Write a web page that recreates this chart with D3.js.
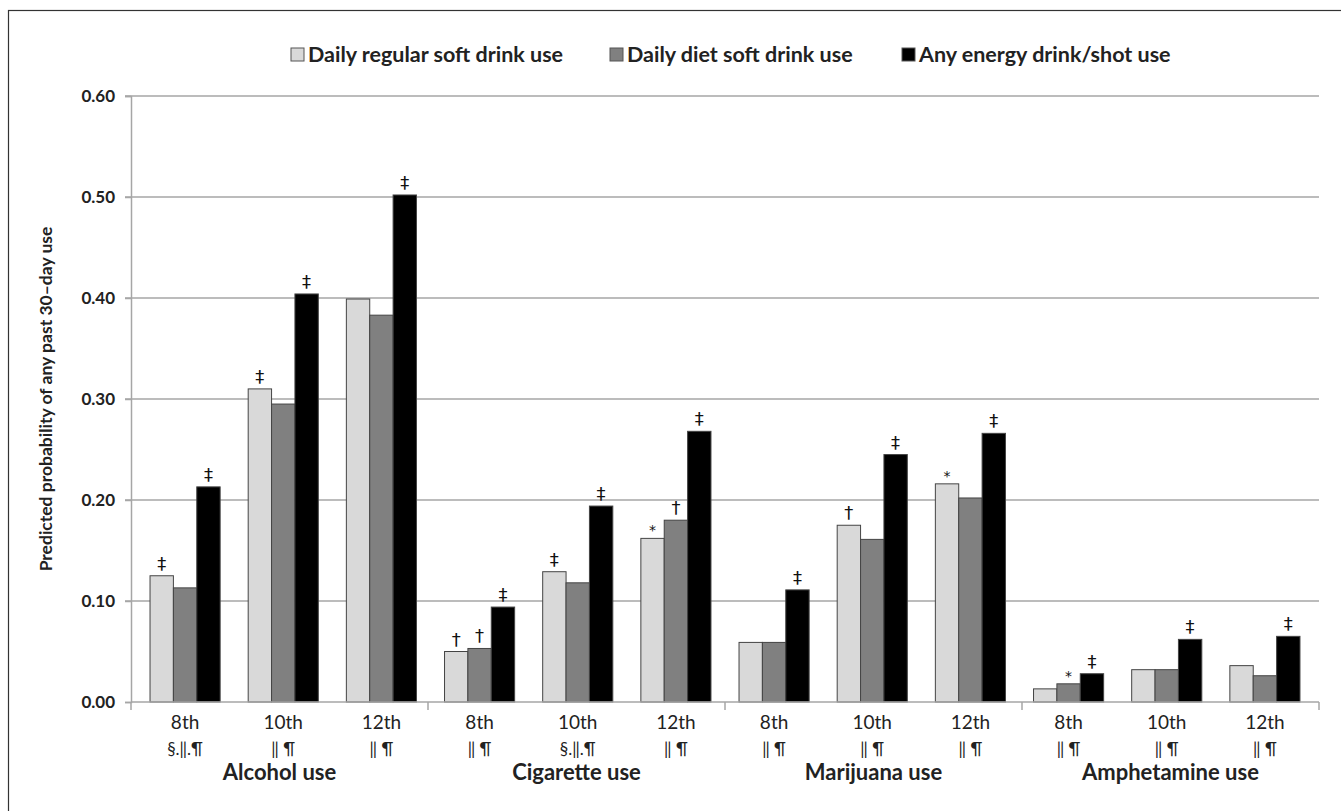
<!DOCTYPE html>
<html>
<head>
<meta charset="utf-8">
<script src="https://cdn.jsdelivr.net/npm/d3@7"></script>
<style>
  body { margin: 0; background: #fff; }
  text { font-family: Lato, "Open Sans", sans-serif; fill: #222; }
</style>
</head>
<body>
<div class="svg_container"></div>
<script>
// Chart data
var groups = ["Alcohol use", "Cigarette use", "Marijuana use", "Amphetamine use"];
var grades = ["8th", "10th", "12th"];
var gradeNotes = ["§.‖.¶", "‖ ¶", "‖ ¶", "‖ ¶", "§.‖.¶", "‖ ¶", "‖ ¶", "‖ ¶", "‖ ¶", "‖ ¶", "‖ ¶", "‖ ¶"];
var seriesNames = ["Daily regular soft drink use", "Daily diet soft drink use", "Any energy drink/shot use"];
var seriesColors = ["#d9d9d9", "#808080", "#000000"];

var regularVals = [0.125, 0.310, 0.399, 0.050, 0.129, 0.162, 0.059, 0.175, 0.216, 0.013, 0.032, 0.036];
var dietVals    = [0.113, 0.295, 0.383, 0.053, 0.118, 0.180, 0.059, 0.161, 0.202, 0.018, 0.032, 0.026];
var energyVals  = [0.213, 0.404, 0.502, 0.094, 0.194, 0.268, 0.111, 0.245, 0.266, 0.028, 0.062, 0.065];

var regularMarks = ["‡", "‡", "", "†", "‡", "*", "", "†", "*", "", "", ""];
var dietMarks    = ["", "", "", "†", "", "†", "", "", "", "*", "", ""];
var energyMarks  = ["‡", "‡", "‡", "‡", "‡", "‡", "‡", "‡", "‡", "‡", "‡", "‡"];

var yTicks = [0, 0.1, 0.2, 0.3, 0.4, 0.5, 0.6];

var W = 1341, H = 811;
var plotLeft = 131, plotRight = 1319, plotTop = 96, plotBottom = 702;

// category keys: group index * 3 + grade index
var cats = [];
groups.forEach(function(g, gi) {
    grades.forEach(function(gr, ri) { cats.push(gi * 3 + ri); });
});

var allVals = [regularVals, dietVals, energyVals];
var allMarks = [regularMarks, dietMarks, energyMarks];

var svg = d3.select("div.svg_container")
    .append("svg")
    .attr("width", W)
    .attr("height", H);

// outer frame (runs off the right and bottom edges)
svg.append("rect")
    .attr("x", 8.5).attr("y", 10.5)
    .attr("width", W + 20).attr("height", H + 20)
    .attr("fill", "none")
    .attr("stroke", "#333")
    .attr("stroke-width", 1.2);

var y = d3.scaleLinear().domain([0, 0.6]).range([plotBottom, plotTop]);
var xg = d3.scaleBand().domain(groups).range([plotLeft, plotRight]);
var x0 = d3.scaleBand().domain(cats).range([plotLeft + 5, plotRight - 5]);
var x1 = d3.scaleBand().domain([0, 1, 2]).range([0, x0.bandwidth()]).paddingInner(0).paddingOuter(0.6);

// gridlines
svg.append("g")
    .selectAll("line")
    .data(yTicks.slice(1))
    .enter()
    .append("line")
        .attr("x1", plotLeft - 6).attr("x2", plotRight)
        .attr("y1", function(d) { return y(d); })
        .attr("y2", function(d) { return y(d); })
        .attr("stroke", "#a6a6a6")
        .attr("stroke-width", 1.5);

// y axis
var yAxis = svg.append("g")
    .attr("transform", "translate(" + plotLeft + ",0)")
    .call(d3.axisLeft(y).tickValues(yTicks).tickFormat(d3.format(".2f")).tickSize(6).tickPadding(10));
yAxis.select(".domain").attr("stroke", "#a6a6a6").attr("stroke-width", 1.5);
yAxis.selectAll(".tick line").attr("stroke", "#a6a6a6").attr("stroke-width", 1.5);
yAxis.selectAll(".tick text")
    .style("font-family", "Lato, 'Open Sans', sans-serif")
    .style("font-size", "17px")
    .style("font-weight", "bold")
    .attr("fill", "#333");

// y title
svg.append("text")
    .attr("transform", "translate(52," + ((plotTop + plotBottom) / 2) + ") rotate(-90)")
    .attr("text-anchor", "middle")
    .style("font-size", "17.5px")
    .style("font-weight", "bold")
    .text("Predicted probability of any past 30\u2013day use");

// bars
var barGroups = svg.append("g")
    .selectAll("g.cat")
    .data(cats)
    .enter()
    .append("g")
        .attr("class", "cat")
        .attr("transform", function(c) { return "translate(" + x0(c) + ",0)"; });

function barData(c) {
    return [0, 1, 2].map(function(s) { return {s: s, v: allVals[s][c], m: allMarks[s][c]}; });
}

barGroups.selectAll("rect")
    .data(barData)
    .enter()
    .append("rect")
        .attr("x", function(d) { return x1(d.s); })
        .attr("width", x1.bandwidth())
        .attr("y", function(d) { return y(d.v); })
        .attr("height", function(d) { return y(0) - y(d.v); })
        .attr("fill", function(d) { return seriesColors[d.s]; })
        .attr("stroke", "#444")
        .attr("stroke-width", 1);

barGroups.selectAll("text.mark")
    .data(barData)
    .enter()
    .append("text")
        .attr("class", "mark")
        .attr("x", function(d) { return x1(d.s) + x1.bandwidth() / 2; })
        .attr("y", function(d) { return y(d.v) - (d.m === "*" ? 3 : 6); })
        .attr("text-anchor", "middle")
        .style("font-family", "'DejaVu Sans', sans-serif")
        .style("font-size", function(d) { return d.m === "*" ? "14px" : "18px"; })
        .style("fill", "#111")
        .text(function(d) { return d.m; });

// x axis line
svg.append("line")
    .attr("x1", plotLeft).attr("x2", plotRight)
    .attr("y1", plotBottom).attr("y2", plotBottom)
    .attr("stroke", "#a6a6a6")
    .attr("stroke-width", 1.5);

// group boundary ticks
var bounds = groups.map(function(g) { return xg(g); }).concat([plotRight]);
svg.append("g")
    .selectAll("line")
    .data(bounds)
    .enter()
    .append("line")
        .attr("x1", function(d) { return d; }).attr("x2", function(d) { return d; })
        .attr("y1", plotBottom).attr("y2", plotBottom + 8)
        .attr("stroke", "#a6a6a6")
        .attr("stroke-width", 1.5);

// grade labels + significance notes
var labels = svg.append("g")
    .selectAll("g.lab")
    .data(cats)
    .enter()
    .append("g")
        .attr("class", "lab")
        .attr("transform", function(c) { return "translate(" + (x0(c) + x0.bandwidth() / 2) + ",0)"; });

labels.append("text")
    .attr("y", 729)
    .attr("text-anchor", "middle")
    .style("font-size", "19px")
    .text(function(c) { return grades[c % 3]; });

labels.append("text")
    .attr("y", 755)
    .attr("text-anchor", "middle")
    .style("font-size", "17px")
    .text(function(c) { return gradeNotes[c]; });

// group labels
svg.append("g")
    .selectAll("text")
    .data(groups)
    .enter()
    .append("text")
        .attr("x", function(g) { return xg(g) + xg.bandwidth() / 2; })
        .attr("y", 780)
        .attr("text-anchor", "middle")
        .style("font-size", "22px")
        .style("font-weight", "bold")
        .text(function(g) { return g; });

// legend
var legendX = [291, 610, 902];
var legend = svg.append("g").attr("class", "legend");
seriesNames.forEach(function(name, i) {
    legend.append("rect")
        .attr("x", legendX[i]).attr("y", 48)
        .attr("width", 13).attr("height", 13)
        .attr("fill", seriesColors[i])
        .attr("stroke", "#555")
        .attr("stroke-width", 1);
    legend.append("text")
        .attr("x", legendX[i] + 17)
        .attr("y", 62)
        .style("font-size", "21.5px")
        .style("font-weight", "bold")
        .text(name);
});
</script>
</body>
</html>
